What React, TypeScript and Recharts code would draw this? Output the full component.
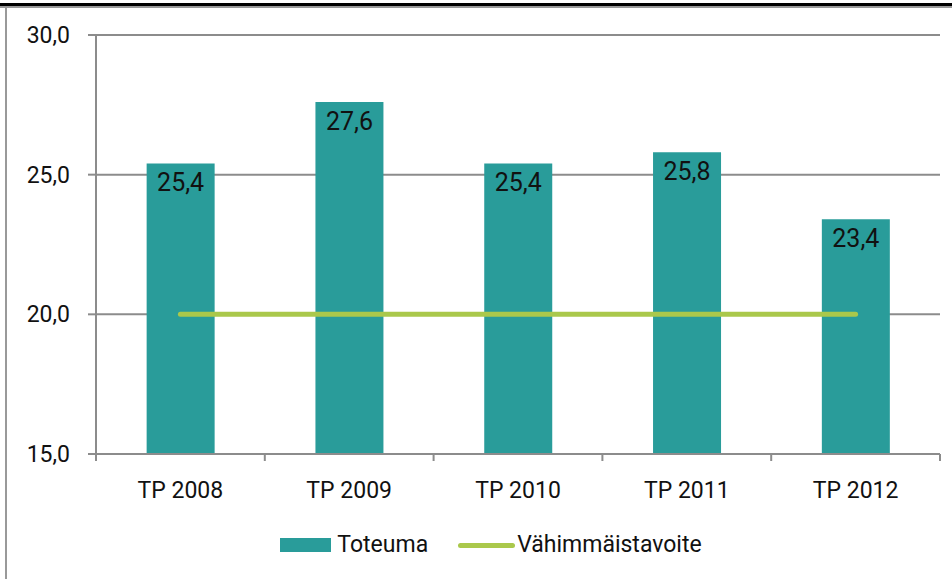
import React from "react";
import {
  ComposedChart,
  Bar,
  Line,
  XAxis,
  YAxis,
  CartesianGrid,
  Legend,
  LabelList,
} from "recharts";

const categories = ["TP 2008", "TP 2009", "TP 2010", "TP 2011", "TP 2012"];
const toteuma = [25.4, 27.6, 25.4, 25.8, 23.4];
const tavoite = [20, 20, 20, 20, 20];
const yTicks = [15, 20, 25, 30];

const data = categories.map((name, i) => ({
  name,
  Toteuma: toteuma[i],
  "Vähimmäistavoite": tavoite[i],
}));

const FONT = "Roboto, 'Open Sans', sans-serif";
const GRID = "#8c8c8c";
const BAR = "#299c9a";
const LINE = "#aac84b";

const W = 952;
const H = 579;
const LEFT = 96;
const RIGHT = 12;
const BAND = (W - LEFT - RIGHT) / categories.length;

const fmt = (v: number) => v.toFixed(1).replace(".", ",");

function XTick(props: any) {
  const { x, y, payload, index } = props;
  const half = BAND / 2;
  return (
    <g>
      <line x1={x - half} y1={y - 8} x2={x - half} y2={y - 1} stroke={GRID} strokeWidth={2} />
      {index === categories.length - 1 && (
        <line x1={x + half} y1={y - 8} x2={x + half} y2={y - 1} stroke={GRID} strokeWidth={2} />
      )}
      <text
        x={x}
        y={y + 36}
        textAnchor="middle"
        fill="#111"
        fontSize={23}
        fontFamily={FONT}
      >
        {payload.value}
      </text>
    </g>
  );
}

export default function App() {
  return (
    <div style={{ position: "absolute", left: 0, top: 0, width: W, height: H, background: "#fff" }}>
      <div style={{ position: "absolute", left: 0, top: 3, width: W, height: 3, background: "#000" }} />
      <div style={{ position: "absolute", left: 0, top: 6, width: W, height: 2, background: "#999" }} />
      <div style={{ position: "absolute", left: 5, top: 6, width: 2, height: H - 6, background: "#999" }} />
      <ComposedChart
        width={W}
        height={H}
        data={data}
        margin={{ top: 35, right: RIGHT, left: 0, bottom: 19 }}
        barCategoryGap="30%"
      >
        <CartesianGrid vertical={false} stroke={GRID} strokeWidth={2} />
        <XAxis
          dataKey="name"
          height={76}
          axisLine={{ stroke: GRID, strokeWidth: 2 }}
          tickLine={false}
          tick={<XTick />}
          interval={0}
        />
        <YAxis
          width={LEFT}
          domain={[15, 30]}
          ticks={yTicks}
          tickFormatter={fmt}
          axisLine={{ stroke: GRID, strokeWidth: 2 }}
          tickLine={{ stroke: GRID, strokeWidth: 2 }}
          tickSize={8}
          tickMargin={18}
          tick={{ fill: "#111", fontSize: 23, fontFamily: FONT }}
        />
        <Legend
          verticalAlign="bottom"
          align="center"
          iconSize={0}
          wrapperStyle={{ height: 30, lineHeight: "30px", fontFamily: FONT, fontSize: 23 }}
          content={() => (
            <div
              style={{
                display: "flex",
                justifyContent: "center",
                alignItems: "center",
                height: 30,
                fontFamily: FONT,
                fontSize: 23,
                color: "#111",
                paddingLeft: 42,
              }}
            >
              <span style={{ display: "inline-block", width: 51, height: 14, background: BAR, marginRight: 6 }} />
              <span style={{ marginRight: 30 }}>Toteuma</span>
              <span
                style={{
                  display: "inline-block",
                  width: 57,
                  height: 5,
                  borderRadius: 3,
                  background: LINE,
                  marginRight: 2,
                }}
              />
              <span>Vähimmäistavoite</span>
            </div>
          )}
        />
        <Bar dataKey="Toteuma" fill={BAR} isAnimationActive={false}>
          <LabelList
            dataKey="Toteuma"
            position="insideTop"
            offset={10}
            formatter={(v: any) => fmt(Number(v))}
            fill="#111"
            fontSize={25}
            fontFamily={FONT}
          />
        </Bar>
        <Line
          dataKey="Vähimmäistavoite"
          stroke={LINE}
          strokeWidth={5}
          strokeLinecap="round"
          dot={false}
          activeDot={false}
          isAnimationActive={false}
        />
      </ComposedChart>
    </div>
  );
}
